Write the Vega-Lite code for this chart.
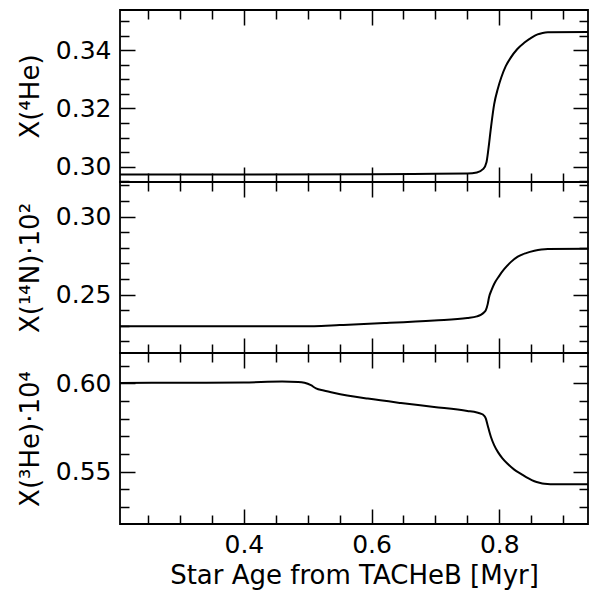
{
  "$schema": "https://vega.github.io/schema/vega-lite/v6.json",
  "padding": {"left": 16, "top": 8, "right": 2, "bottom": 2},
  "spacing": 0,
  "bounds": "flush",
  "datasets": {
    "he4": [
      {"x": 0.206, "y": 0.2973}, {"x": 0.40, "y": 0.2973}, {"x": 0.60, "y": 0.2974}, {"x": 0.70, "y": 0.2975},
      {"x": 0.75, "y": 0.2976}, {"x": 0.765, "y": 0.2980}, {"x": 0.775, "y": 0.2992}, {"x": 0.780, "y": 0.3015},
      {"x": 0.783, "y": 0.3060}, {"x": 0.787, "y": 0.3134}, {"x": 0.792, "y": 0.3214}, {"x": 0.798, "y": 0.3270},
      {"x": 0.803, "y": 0.3306}, {"x": 0.810, "y": 0.3345}, {"x": 0.818, "y": 0.3375}, {"x": 0.828, "y": 0.3404},
      {"x": 0.839, "y": 0.3426}, {"x": 0.850, "y": 0.3443}, {"x": 0.860, "y": 0.3455}, {"x": 0.868, "y": 0.3460},
      {"x": 0.876, "y": 0.3462}, {"x": 0.939, "y": 0.3463}
    ],
    "n14": [
      {"x": 0.206, "y": 0.2296}, {"x": 0.40, "y": 0.2296}, {"x": 0.51, "y": 0.2297}, {"x": 0.55, "y": 0.2304},
      {"x": 0.62, "y": 0.2317}, {"x": 0.698, "y": 0.2334}, {"x": 0.75, "y": 0.2349}, {"x": 0.765, "y": 0.2360},
      {"x": 0.771, "y": 0.2370}, {"x": 0.776, "y": 0.2385}, {"x": 0.779, "y": 0.2400}, {"x": 0.782, "y": 0.2440},
      {"x": 0.784, "y": 0.2483}, {"x": 0.788, "y": 0.2530}, {"x": 0.792, "y": 0.2568}, {"x": 0.800, "y": 0.2620},
      {"x": 0.808, "y": 0.2664}, {"x": 0.818, "y": 0.2708}, {"x": 0.829, "y": 0.2743}, {"x": 0.842, "y": 0.2766},
      {"x": 0.855, "y": 0.2781}, {"x": 0.866, "y": 0.2789}, {"x": 0.876, "y": 0.2792}, {"x": 0.939, "y": 0.2793}
    ],
    "he3": [
      {"x": 0.206, "y": 0.6003}, {"x": 0.30, "y": 0.6004}, {"x": 0.40, "y": 0.6006}, {"x": 0.46, "y": 0.6011},
      {"x": 0.485, "y": 0.6009}, {"x": 0.495, "y": 0.6004}, {"x": 0.505, "y": 0.5990}, {"x": 0.513, "y": 0.5972},
      {"x": 0.525, "y": 0.5960}, {"x": 0.542, "y": 0.5946}, {"x": 0.594, "y": 0.5914}, {"x": 0.646, "y": 0.5889},
      {"x": 0.698, "y": 0.5867}, {"x": 0.750, "y": 0.5844}, {"x": 0.765, "y": 0.5835}, {"x": 0.771, "y": 0.5829},
      {"x": 0.776, "y": 0.5818}, {"x": 0.779, "y": 0.5800}, {"x": 0.782, "y": 0.5760}, {"x": 0.785, "y": 0.5720},
      {"x": 0.787, "y": 0.5696}, {"x": 0.792, "y": 0.5650}, {"x": 0.798, "y": 0.5610}, {"x": 0.805, "y": 0.5575},
      {"x": 0.813, "y": 0.5544}, {"x": 0.823, "y": 0.5512}, {"x": 0.834, "y": 0.5487}, {"x": 0.845, "y": 0.5463},
      {"x": 0.855, "y": 0.5445}, {"x": 0.863, "y": 0.5436}, {"x": 0.871, "y": 0.5430}, {"x": 0.880, "y": 0.5428},
      {"x": 0.939, "y": 0.5428}
    ]
  },
  "vconcat": [
    {
      "width": 468, "height": 172,
      "data": {"name": "he4"},
      "layer": [
        {"mark": {"type": "line", "color": "black", "strokeWidth": 2, "interpolate": "monotone"},
         "encoding": {
           "x": {"field": "x", "type": "quantitative", "scale": {"domain": [0.206, 0.939], "nice": false, "zero": false}, "axis": null},
           "y": {"field": "y", "type": "quantitative", "scale": {"domain": [0.2947, 0.3539], "nice": false, "zero": false},
                 "axis": {"orient": "left", "values": [0.30, 0.32, 0.34], "format": ".2f", "ticks": false, "domain": false, "title": "X(⁴He)"}}
         }},
        {"mark": {"type": "line", "opacity": 0},
         "encoding": {
           "x": {"field": "x", "type": "quantitative", "axis": {"orient": "bottom", "values": [0.4, 0.6, 0.8], "labels": false, "title": null, "domain": false, "tickSize": 15, "offset": -15}},
           "y": {"field": "y", "type": "quantitative", "axis": {"orient": "left", "values": [0.30, 0.32, 0.34], "labels": false, "title": null, "domain": false, "tickSize": 15, "offset": -15}}
         }},
        {"mark": {"type": "line", "opacity": 0},
         "encoding": {
           "x": {"field": "x", "type": "quantitative", "axis": {"orient": "bottom", "values": [0.25, 0.3, 0.35, 0.45, 0.5, 0.55, 0.65, 0.7, 0.75, 0.85, 0.9], "labels": false, "title": null, "domain": false, "tickSize": 9, "offset": -9}},
           "y": {"field": "y", "type": "quantitative", "axis": {"orient": "left", "values": [0.295, 0.305, 0.31, 0.315, 0.325, 0.33, 0.335, 0.345, 0.35], "labels": false, "title": null, "domain": false, "tickSize": 9, "offset": -9}}
         }},
        {"mark": {"type": "line", "opacity": 0},
         "encoding": {
           "x": {"field": "x", "type": "quantitative", "axis": {"orient": "top", "values": [0.4, 0.6, 0.8], "labels": false, "title": null, "domain": false, "tickSize": 15, "offset": -15}},
           "y": {"field": "y", "type": "quantitative", "axis": {"orient": "right", "values": [0.30, 0.32, 0.34], "labels": false, "title": null, "domain": false, "tickSize": 15, "offset": -15}}
         }},
        {"mark": {"type": "line", "opacity": 0},
         "encoding": {
           "x": {"field": "x", "type": "quantitative", "axis": {"orient": "top", "values": [0.25, 0.3, 0.35, 0.45, 0.5, 0.55, 0.65, 0.7, 0.75, 0.85, 0.9], "labels": false, "title": null, "domain": false, "tickSize": 9, "offset": -9}},
           "y": {"field": "y", "type": "quantitative", "axis": {"orient": "right", "values": [0.295, 0.305, 0.31, 0.315, 0.325, 0.33, 0.335, 0.345, 0.35], "labels": false, "title": null, "domain": false, "tickSize": 9, "offset": -9}}
         }}
      ],
      "resolve": {"axis": {"x": "independent", "y": "independent"}}
    },
    {
      "width": 468, "height": 171,
      "data": {"name": "n14"},
      "layer": [
        {"mark": {"type": "line", "color": "black", "strokeWidth": 2, "interpolate": "monotone"},
         "encoding": {
           "x": {"field": "x", "type": "quantitative", "scale": {"domain": [0.206, 0.939], "nice": false, "zero": false}, "axis": null},
           "y": {"field": "y", "type": "quantitative", "scale": {"domain": [0.2125, 0.3222], "nice": false, "zero": false},
                 "axis": {"orient": "left", "values": [0.25, 0.30], "format": ".2f", "ticks": false, "domain": false, "title": "X(¹⁴N)·10²"}}
         }},
        {"mark": {"type": "line", "opacity": 0},
         "encoding": {
           "x": {"field": "x", "type": "quantitative", "axis": {"orient": "bottom", "values": [0.4, 0.6, 0.8], "labels": false, "title": null, "domain": false, "tickSize": 15, "offset": -15}},
           "y": {"field": "y", "type": "quantitative", "axis": {"orient": "left", "values": [0.25, 0.30], "labels": false, "title": null, "domain": false, "tickSize": 15, "offset": -15}}
         }},
        {"mark": {"type": "line", "opacity": 0},
         "encoding": {
           "x": {"field": "x", "type": "quantitative", "axis": {"orient": "bottom", "values": [0.25, 0.3, 0.35, 0.45, 0.5, 0.55, 0.65, 0.7, 0.75, 0.85, 0.9], "labels": false, "title": null, "domain": false, "tickSize": 9, "offset": -9}},
           "y": {"field": "y", "type": "quantitative", "axis": {"orient": "left", "values": [0.22, 0.23, 0.24, 0.26, 0.27, 0.28, 0.29, 0.31, 0.32], "labels": false, "title": null, "domain": false, "tickSize": 9, "offset": -9}}
         }},
        {"mark": {"type": "line", "opacity": 0},
         "encoding": {
           "x": {"field": "x", "type": "quantitative", "axis": {"orient": "top", "values": [0.4, 0.6, 0.8], "labels": false, "title": null, "domain": false, "tickSize": 15, "offset": -15}},
           "y": {"field": "y", "type": "quantitative", "axis": {"orient": "right", "values": [0.25, 0.30], "labels": false, "title": null, "domain": false, "tickSize": 15, "offset": -15}}
         }},
        {"mark": {"type": "line", "opacity": 0},
         "encoding": {
           "x": {"field": "x", "type": "quantitative", "axis": {"orient": "top", "values": [0.25, 0.3, 0.35, 0.45, 0.5, 0.55, 0.65, 0.7, 0.75, 0.85, 0.9], "labels": false, "title": null, "domain": false, "tickSize": 9, "offset": -9}},
           "y": {"field": "y", "type": "quantitative", "axis": {"orient": "right", "values": [0.22, 0.23, 0.24, 0.26, 0.27, 0.28, 0.29, 0.31, 0.32], "labels": false, "title": null, "domain": false, "tickSize": 9, "offset": -9}}
         }}
      ],
      "resolve": {"axis": {"x": "independent", "y": "independent"}}
    },
    {
      "width": 468, "height": 171,
      "data": {"name": "he3"},
      "layer": [
        {"mark": {"type": "line", "color": "black", "strokeWidth": 2, "interpolate": "monotone"},
         "encoding": {
           "x": {"field": "x", "type": "quantitative", "scale": {"domain": [0.206, 0.939], "nice": false, "zero": false},
                 "axis": {"orient": "bottom", "values": [0.4, 0.6, 0.8], "format": ".1f", "ticks": false, "domain": false, "labelPadding": 8, "titlePadding": 5, "title": "Star Age from TACHeB [Myr]"}},
           "y": {"field": "y", "type": "quantitative", "scale": {"domain": [0.5202, 0.6173], "nice": false, "zero": false},
                 "axis": {"orient": "left", "values": [0.55, 0.60], "format": ".2f", "ticks": false, "domain": false, "title": "X(³He)·10⁴"}}
         }},
        {"mark": {"type": "line", "opacity": 0},
         "encoding": {
           "x": {"field": "x", "type": "quantitative", "axis": {"orient": "bottom", "values": [0.4, 0.6, 0.8], "labels": false, "title": null, "domain": false, "tickSize": 15, "offset": -15}},
           "y": {"field": "y", "type": "quantitative", "axis": {"orient": "left", "values": [0.55, 0.60], "labels": false, "title": null, "domain": false, "tickSize": 15, "offset": -15}}
         }},
        {"mark": {"type": "line", "opacity": 0},
         "encoding": {
           "x": {"field": "x", "type": "quantitative", "axis": {"orient": "bottom", "values": [0.25, 0.3, 0.35, 0.45, 0.5, 0.55, 0.65, 0.7, 0.75, 0.85, 0.9], "labels": false, "title": null, "domain": false, "tickSize": 9, "offset": -9}},
           "y": {"field": "y", "type": "quantitative", "axis": {"orient": "left", "values": [0.53, 0.54, 0.56, 0.57, 0.58, 0.59, 0.61], "labels": false, "title": null, "domain": false, "tickSize": 9, "offset": -9}}
         }},
        {"mark": {"type": "line", "opacity": 0},
         "encoding": {
           "x": {"field": "x", "type": "quantitative", "axis": {"orient": "top", "values": [0.4, 0.6, 0.8], "labels": false, "title": null, "domain": false, "tickSize": 15, "offset": -15}},
           "y": {"field": "y", "type": "quantitative", "axis": {"orient": "right", "values": [0.55, 0.60], "labels": false, "title": null, "domain": false, "tickSize": 15, "offset": -15}}
         }},
        {"mark": {"type": "line", "opacity": 0},
         "encoding": {
           "x": {"field": "x", "type": "quantitative", "axis": {"orient": "top", "values": [0.25, 0.3, 0.35, 0.45, 0.5, 0.55, 0.65, 0.7, 0.75, 0.85, 0.9], "labels": false, "title": null, "domain": false, "tickSize": 9, "offset": -9}},
           "y": {"field": "y", "type": "quantitative", "axis": {"orient": "right", "values": [0.53, 0.54, 0.56, 0.57, 0.58, 0.59, 0.61], "labels": false, "title": null, "domain": false, "tickSize": 9, "offset": -9}}
         }}
      ],
      "resolve": {"axis": {"x": "independent", "y": "independent"}}
    }
  ],
  "config": {
    "view": {"stroke": "black", "strokeWidth": 1.8},
    "axis": {
      "grid": false,
      "labelFont": "DejaVu Sans", "titleFont": "DejaVu Sans",
      "labelFontSize": 25, "titleFontSize": 26, "titleFontWeight": "normal",
      "labelColor": "black", "titleColor": "black",
      "domainColor": "black", "tickColor": "black",
      "domainWidth": 1.5, "tickWidth": 1.5,
      "labelPadding": 9, "titlePadding": 12
    }
  }
}
